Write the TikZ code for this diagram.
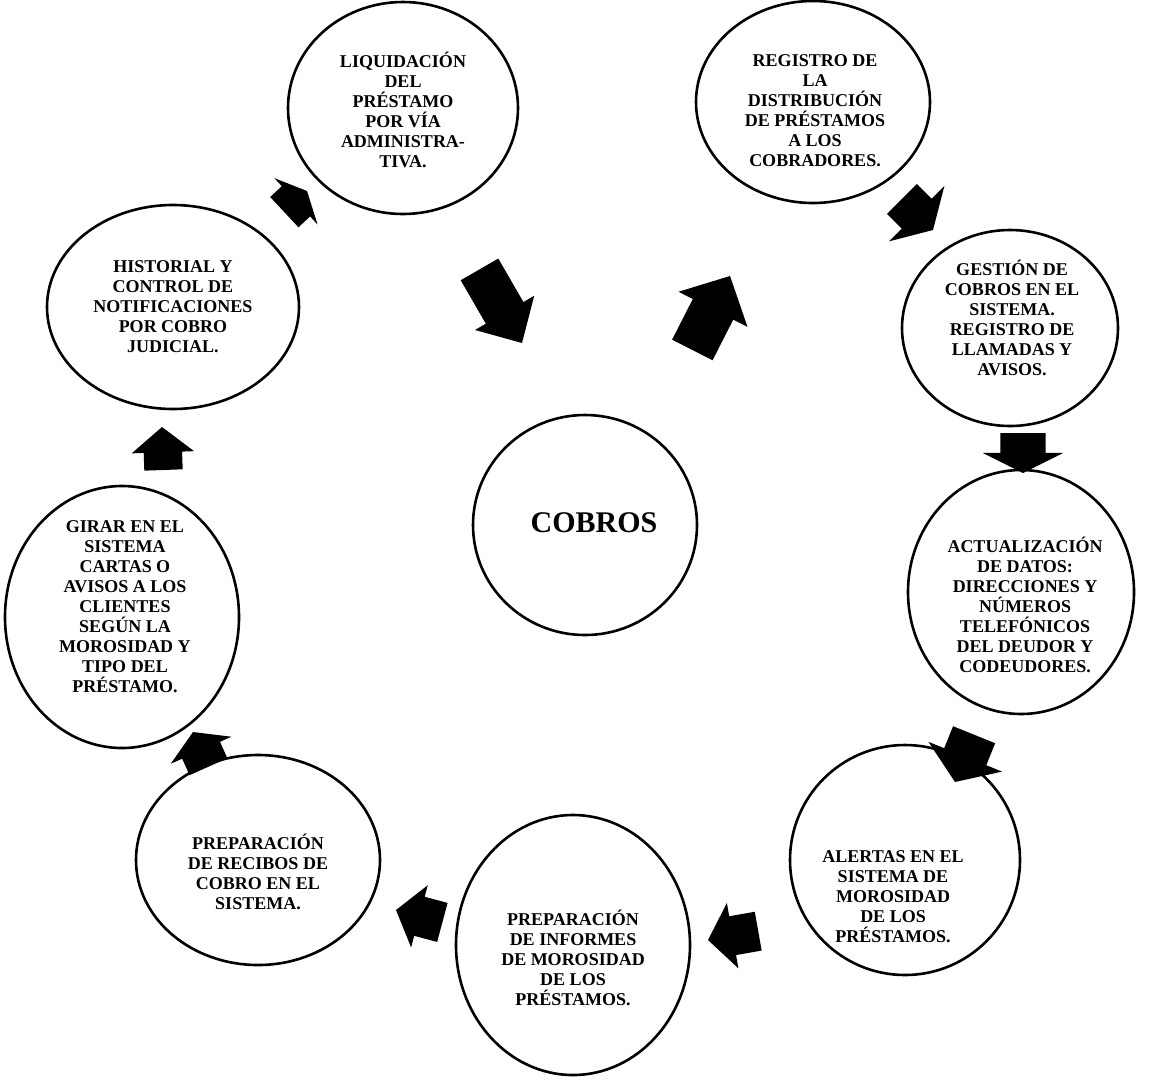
\documentclass[tikz,border=0pt]{standalone}
\usepackage{fontspec}
\setmainfont{Liberation Serif}
\usetikzlibrary{shapes.geometric,shapes.arrows}
\tikzset{
  bubble/.style={ellipse,draw=black,line width=2.6pt,inner sep=0pt,fill=white},
  btext/.style={align=center,font=\bfseries\fontsize{18}{20}\selectfont,inner sep=0pt},
  barrow/.style n args={6}{single arrow,fill=black,draw=none,inner xsep=0pt,outer sep=0pt,
    minimum height=#1pt,minimum width=#2pt,inner ysep=#3pt,single arrow head extend=#4pt,
    single arrow tip angle=#5,rotate=#6,anchor=tip},
}
\begin{document}
\begin{tikzpicture}[x=1pt,y=-1pt]
\useasboundingbox[fill=white] (0,0) rectangle (1155,1080);

% circles
\node[bubble,minimum width=230pt,minimum height=212pt] (c1) at (403,108) {};
\node[bubble,minimum width=234pt,minimum height=202pt] (c2) at (813,102) {};
\node[bubble,minimum width=252pt,minimum height=204pt] (c3) at (173,307) {};
\node[bubble,minimum width=216pt,minimum height=196pt] (c4) at (1010,328) {};
\node[bubble,minimum width=224pt,minimum height=220pt] (c5) at (585,525) {};
\node[bubble,minimum width=234pt,minimum height=262pt] (c6) at (122,617) {};
\node[bubble,minimum width=226pt,minimum height=244pt] (c7) at (1021,592) {};
\node[bubble,minimum width=230pt,minimum height=230pt] (c8) at (905,860) {};
\node[bubble,minimum width=234pt,minimum height=260pt] (c9) at (573,945) {};
\node[bubble,minimum width=244pt,minimum height=210pt] (c10) at (258,860) {};

% texts
\node[btext] (t1) at (403,110) {LIQUIDACIÓN\\DEL\\PRÉSTAMO\\POR VÍA\\ADMINISTRA-\\TIVA.};
\node[btext] (t2) at (815,111) {REGISTRO DE\\LA\\DISTRIBUCIÓN\\DE PRÉSTAMOS\\A LOS\\COBRADORES.};
\node[btext] (t3) at (173,307) {HISTORIAL Y\\CONTROL DE\\NOTIFICACIONES\\POR COBRO\\JUDICIAL.};
\node[btext] (t4) at (1012,318) {GESTIÓN DE\\COBROS EN EL\\SISTEMA.\\REGISTRO DE\\LLAMADAS Y\\AVISOS.};
\node[font=\bfseries\fontsize{30}{32}\selectfont,inner sep=0pt] (t5) at (594,523) {COBROS};
\node[btext] (t6) at (125,607) {GIRAR EN EL\\SISTEMA\\CARTAS O\\AVISOS A LOS\\CLIENTES\\SEGÚN LA\\MOROSIDAD Y\\TIPO DEL\\PRÉSTAMO.};
\node[btext] (t7) at (1025,605) {ACTUALIZACIÓN\\DE DATOS:\\DIRECCIONES Y\\NÚMEROS\\TELEFÓNICOS\\DEL DEUDOR Y\\CODEUDORES.};
\node[btext] (t8) at (893,897) {ALERTAS EN EL\\SISTEMA DE\\MOROSIDAD\\DE LOS\\PRÉSTAMOS.};
\node[btext] (t9) at (573,958) {PREPARACIÓN\\DE INFORMES\\DE MOROSIDAD\\DE LOS\\PRÉSTAMOS.};
\node[btext] (t10) at (258,872) {PREPARACIÓN\\DE RECIBOS DE\\COBRO EN EL\\SISTEMA.};

% arrows (positioned by their tips)
\node[barrow={31}{63}{20.5}{11}{129}{43}] (a1) at (307,191) {};
\node[barrow={85}{68}{21.5}{12.5}{89}{-60}] (a2) at (522,343) {};
\node[barrow={83}{77}{22.5}{16}{92}{63}] (a3) at (730,276) {};
\node[barrow={44}{78}{21}{18}{119}{-45}] (a4) at (933,230) {};
\node[barrow={40}{80}{22.5}{17.5}{127}{-90}] (a5) at (1023,473) {};
\node[barrow={51}{79}{22.5}{17}{111}{248}] (a6) at (955,782) {};
\node[barrow={51}{66}{19.5}{13.5}{106}{190}] (a7) at (708,940) {};
\node[barrow={48}{64}{20}{12}{106}{165}] (a8) at (396,910) {};
\node[barrow={38}{66}{20.5}{12.5}{118}{114}] (a9) at (193,732) {};
\node[barrow={43}{62}{19}{12}{102}{92}] (a10) at (162,427) {};
\end{tikzpicture}
\end{document}
